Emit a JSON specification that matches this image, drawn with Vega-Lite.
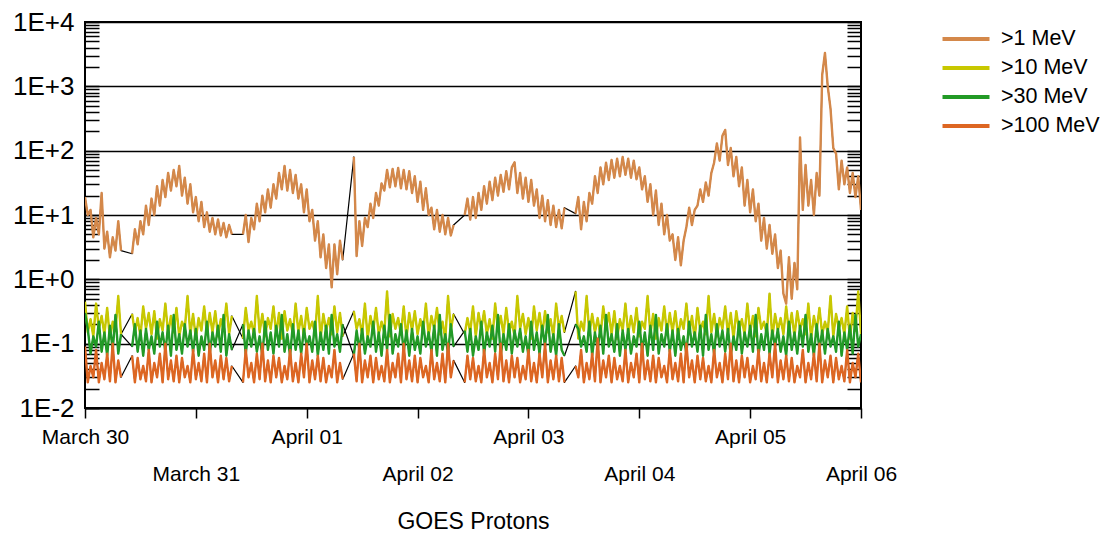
{
  "$schema": "https://vega.github.io/schema/vega-lite/v6.json",
  "autosize": "none",
  "width": 776,
  "height": 386,
  "padding": {"left": 85, "top": 22, "right": 250, "bottom": 127},
  "background": "white",
  "config": {
    "font": "Liberation Sans",
    "view": {"stroke": "black", "strokeWidth": 2}
  },
  "data": {
    "values": [
      {"t":0,"a":19,"b":0.45,"c":0.3,"d":0.09,"g":0},
      {"t":0.025,"a":10,"b":0.15,"c":0.17,"d":0.025,"g":0},
      {"t":0.05,"a":12,"b":0.24,"c":0.07,"d":0.045,"g":0},
      {"t":0.075,"a":4.5,"b":0.13,"c":0.13,"d":0.03,"g":0},
      {"t":0.1,"a":9,"b":0.42,"c":0.09,"d":0.08,"g":0},
      {"t":0.125,"a":5,"b":0.17,"c":0.22,"d":0.025,"g":0},
      {"t":0.15,"a":22,"b":0.27,"c":0.075,"d":0.05,"g":0},
      {"t":0.175,"a":3,"b":0.14,"c":0.15,"d":0.028,"g":0},
      {"t":0.2,"a":5.5,"b":0.36,"c":0.065,"d":0.07,"g":0},
      {"t":0.225,"a":2.2,"b":0.12,"c":0.19,"d":0.026,"g":0},
      {"t":0.25,"a":4.5,"b":0.22,"c":0.08,"d":0.1,"g":0},
      {"t":0.275,"a":2.8,"b":0.16,"c":0.28,"d":0.025,"g":0},
      {"t":0.3,"a":8,"b":0.55,"c":0.07,"d":0.055,"g":0},
      {"t":0.325,"a":2.8,"b":0.14,"c":0.14,"d":0.03,"g":0},
      {"t":0.425,"a":2.5,"b":0.29,"c":0.09,"d":0.065,"g":1},
      {"t":0.45,"a":6,"b":0.15,"c":0.2,"d":0.025,"g":1},
      {"t":0.475,"a":3.5,"b":0.25,"c":0.075,"d":0.06,"g":1},
      {"t":0.5,"a":8,"b":0.13,"c":0.16,"d":0.028,"g":1},
      {"t":0.525,"a":5,"b":0.38,"c":0.065,"d":0.045,"g":1},
      {"t":0.55,"a":14,"b":0.17,"c":0.17,"d":0.026,"g":1},
      {"t":0.575,"a":7,"b":0.3,"c":0.08,"d":0.08,"g":1},
      {"t":0.6,"a":18,"b":0.14,"c":0.13,"d":0.025,"g":1},
      {"t":0.625,"a":10,"b":0.32,"c":0.07,"d":0.05,"g":1},
      {"t":0.65,"a":28,"b":0.12,"c":0.22,"d":0.03,"g":1},
      {"t":0.675,"a":14,"b":0.24,"c":0.09,"d":0.07,"g":1},
      {"t":0.7,"a":35,"b":0.16,"c":0.15,"d":0.025,"g":1},
      {"t":0.725,"a":19,"b":0.42,"c":0.075,"d":0.1,"g":1},
      {"t":0.75,"a":45,"b":0.14,"c":0.19,"d":0.028,"g":1},
      {"t":0.775,"a":24,"b":0.27,"c":0.065,"d":0.055,"g":1},
      {"t":0.8,"a":50,"b":0.15,"c":0.28,"d":0.026,"g":1},
      {"t":0.825,"a":28,"b":0.36,"c":0.08,"d":0.065,"g":1},
      {"t":0.85,"a":58,"b":0.13,"c":0.14,"d":0.025,"g":1},
      {"t":0.875,"a":20,"b":0.22,"c":0.07,"d":0.06,"g":1},
      {"t":0.9,"a":38,"b":0.17,"c":0.2,"d":0.03,"g":1},
      {"t":0.925,"a":15,"b":0.55,"c":0.09,"d":0.045,"g":1},
      {"t":0.95,"a":30,"b":0.14,"c":0.16,"d":0.025,"g":1},
      {"t":0.975,"a":11,"b":0.29,"c":0.075,"d":0.08,"g":1},
      {"t":1,"a":19,"b":0.12,"c":0.17,"d":0.028,"g":1},
      {"t":1.025,"a":8,"b":0.25,"c":0.065,"d":0.05,"g":1},
      {"t":1.05,"a":16,"b":0.16,"c":0.13,"d":0.026,"g":1},
      {"t":1.075,"a":6.5,"b":0.38,"c":0.08,"d":0.07,"g":1},
      {"t":1.1,"a":11,"b":0.14,"c":0.22,"d":0.025,"g":1},
      {"t":1.125,"a":5.5,"b":0.3,"c":0.07,"d":0.1,"g":1},
      {"t":1.15,"a":9,"b":0.15,"c":0.15,"d":0.03,"g":1},
      {"t":1.175,"a":5,"b":0.32,"c":0.09,"d":0.055,"g":1},
      {"t":1.2,"a":8.5,"b":0.13,"c":0.19,"d":0.025,"g":1},
      {"t":1.225,"a":4.8,"b":0.24,"c":0.075,"d":0.065,"g":1},
      {"t":1.25,"a":7.5,"b":0.17,"c":0.28,"d":0.028,"g":1},
      {"t":1.275,"a":4.5,"b":0.42,"c":0.065,"d":0.06,"g":1},
      {"t":1.3,"a":7,"b":0.14,"c":0.14,"d":0.026,"g":1},
      {"t":1.325,"a":5,"b":0.27,"c":0.08,"d":0.045,"g":1},
      {"t":1.425,"a":5,"b":0.12,"c":0.2,"d":0.025,"g":2},
      {"t":1.45,"a":10,"b":0.36,"c":0.07,"d":0.08,"g":2},
      {"t":1.475,"a":3.8,"b":0.16,"c":0.16,"d":0.03,"g":2},
      {"t":1.5,"a":9,"b":0.22,"c":0.09,"d":0.05,"g":2},
      {"t":1.525,"a":6,"b":0.14,"c":0.17,"d":0.025,"g":2},
      {"t":1.55,"a":15,"b":0.55,"c":0.075,"d":0.07,"g":2},
      {"t":1.575,"a":8,"b":0.15,"c":0.13,"d":0.028,"g":2},
      {"t":1.6,"a":20,"b":0.29,"c":0.065,"d":0.1,"g":2},
      {"t":1.625,"a":11,"b":0.13,"c":0.22,"d":0.026,"g":2},
      {"t":1.65,"a":25,"b":0.25,"c":0.08,"d":0.055,"g":2},
      {"t":1.675,"a":13,"b":0.17,"c":0.15,"d":0.025,"g":2},
      {"t":1.7,"a":30,"b":0.38,"c":0.07,"d":0.065,"g":2},
      {"t":1.725,"a":18,"b":0.14,"c":0.19,"d":0.03,"g":2},
      {"t":1.75,"a":45,"b":0.3,"c":0.09,"d":0.06,"g":2},
      {"t":1.775,"a":25,"b":0.12,"c":0.28,"d":0.025,"g":2},
      {"t":1.8,"a":58,"b":0.32,"c":0.075,"d":0.045,"g":2},
      {"t":1.825,"a":24,"b":0.16,"c":0.14,"d":0.028,"g":2},
      {"t":1.85,"a":50,"b":0.24,"c":0.065,"d":0.08,"g":2},
      {"t":1.875,"a":22,"b":0.14,"c":0.2,"d":0.026,"g":2},
      {"t":1.9,"a":42,"b":0.42,"c":0.08,"d":0.05,"g":2},
      {"t":1.925,"a":18,"b":0.15,"c":0.16,"d":0.025,"g":2},
      {"t":1.95,"a":30,"b":0.27,"c":0.07,"d":0.07,"g":2},
      {"t":1.975,"a":11,"b":0.13,"c":0.17,"d":0.03,"g":2},
      {"t":2,"a":25,"b":0.36,"c":0.09,"d":0.1,"g":2},
      {"t":2.025,"a":8,"b":0.17,"c":0.13,"d":0.025,"g":2},
      {"t":2.05,"a":12,"b":0.22,"c":0.075,"d":0.055,"g":2},
      {"t":2.075,"a":4,"b":0.14,"c":0.22,"d":0.028,"g":2},
      {"t":2.1,"a":8,"b":0.55,"c":0.065,"d":0.065,"g":2},
      {"t":2.125,"a":2.2,"b":0.12,"c":0.15,"d":0.026,"g":2},
      {"t":2.15,"a":5,"b":0.29,"c":0.08,"d":0.06,"g":2},
      {"t":2.175,"a":1.5,"b":0.16,"c":0.19,"d":0.025,"g":2},
      {"t":2.2,"a":3.5,"b":0.25,"c":0.07,"d":0.045,"g":2},
      {"t":2.225,"a":0.75,"b":0.14,"c":0.28,"d":0.03,"g":2},
      {"t":2.25,"a":3.5,"b":0.38,"c":0.09,"d":0.08,"g":2},
      {"t":2.275,"a":1.2,"b":0.15,"c":0.14,"d":0.025,"g":2},
      {"t":2.3,"a":4,"b":0.3,"c":0.075,"d":0.05,"g":2},
      {"t":2.325,"a":2,"b":0.13,"c":0.2,"d":0.028,"g":2},
      {"t":2.425,"a":80,"b":0.32,"c":0.065,"d":0.07,"g":3},
      {"t":2.45,"a":2.3,"b":0.17,"c":0.16,"d":0.026,"g":3},
      {"t":2.475,"a":8,"b":0.24,"c":0.08,"d":0.1,"g":3},
      {"t":2.5,"a":3.3,"b":0.14,"c":0.17,"d":0.025,"g":3},
      {"t":2.525,"a":9,"b":0.42,"c":0.07,"d":0.055,"g":3},
      {"t":2.55,"a":6.5,"b":0.12,"c":0.13,"d":0.03,"g":3},
      {"t":2.575,"a":15,"b":0.27,"c":0.09,"d":0.065,"g":3},
      {"t":2.6,"a":9,"b":0.16,"c":0.22,"d":0.025,"g":3},
      {"t":2.625,"a":22,"b":0.36,"c":0.075,"d":0.06,"g":3},
      {"t":2.65,"a":14,"b":0.14,"c":0.15,"d":0.028,"g":3},
      {"t":2.675,"a":31,"b":0.22,"c":0.065,"d":0.045,"g":3},
      {"t":2.7,"a":24,"b":0.15,"c":0.19,"d":0.026,"g":3},
      {"t":2.725,"a":50,"b":0.65,"c":0.08,"d":0.08,"g":3},
      {"t":2.75,"a":27,"b":0.13,"c":0.28,"d":0.025,"g":3},
      {"t":2.775,"a":52,"b":0.29,"c":0.07,"d":0.05,"g":3},
      {"t":2.8,"a":28,"b":0.17,"c":0.14,"d":0.03,"g":3},
      {"t":2.825,"a":54,"b":0.25,"c":0.09,"d":0.07,"g":3},
      {"t":2.85,"a":26,"b":0.14,"c":0.2,"d":0.025,"g":3},
      {"t":2.875,"a":50,"b":0.38,"c":0.075,"d":0.1,"g":3},
      {"t":2.9,"a":25,"b":0.12,"c":0.16,"d":0.028,"g":3},
      {"t":2.925,"a":48,"b":0.3,"c":0.065,"d":0.055,"g":3},
      {"t":2.95,"a":22,"b":0.16,"c":0.17,"d":0.026,"g":3},
      {"t":2.975,"a":40,"b":0.32,"c":0.08,"d":0.065,"g":3},
      {"t":3,"a":16,"b":0.14,"c":0.13,"d":0.025,"g":3},
      {"t":3.025,"a":33,"b":0.24,"c":0.07,"d":0.06,"g":3},
      {"t":3.05,"a":12,"b":0.15,"c":0.22,"d":0.03,"g":3},
      {"t":3.075,"a":26,"b":0.42,"c":0.09,"d":0.045,"g":3},
      {"t":3.1,"a":10,"b":0.13,"c":0.15,"d":0.025,"g":3},
      {"t":3.125,"a":13,"b":0.27,"c":0.075,"d":0.08,"g":3},
      {"t":3.15,"a":6,"b":0.17,"c":0.19,"d":0.028,"g":3},
      {"t":3.175,"a":12,"b":0.36,"c":0.065,"d":0.05,"g":3},
      {"t":3.2,"a":5.5,"b":0.14,"c":0.28,"d":0.026,"g":3},
      {"t":3.225,"a":10,"b":0.22,"c":0.08,"d":0.07,"g":3},
      {"t":3.25,"a":5,"b":0.12,"c":0.14,"d":0.025,"g":3},
      {"t":3.275,"a":9,"b":0.55,"c":0.07,"d":0.1,"g":3},
      {"t":3.3,"a":4.8,"b":0.16,"c":0.2,"d":0.03,"g":3},
      {"t":3.325,"a":7,"b":0.29,"c":0.09,"d":0.055,"g":3},
      {"t":3.425,"a":10,"b":0.14,"c":0.16,"d":0.025,"g":4},
      {"t":3.45,"a":18,"b":0.25,"c":0.075,"d":0.065,"g":4},
      {"t":3.475,"a":8.5,"b":0.15,"c":0.17,"d":0.028,"g":4},
      {"t":3.5,"a":19,"b":0.38,"c":0.065,"d":0.06,"g":4},
      {"t":3.525,"a":9,"b":0.13,"c":0.13,"d":0.026,"g":4},
      {"t":3.55,"a":22,"b":0.3,"c":0.08,"d":0.045,"g":4},
      {"t":3.575,"a":12,"b":0.17,"c":0.22,"d":0.025,"g":4},
      {"t":3.6,"a":28,"b":0.32,"c":0.07,"d":0.08,"g":4},
      {"t":3.625,"a":15,"b":0.14,"c":0.15,"d":0.03,"g":4},
      {"t":3.65,"a":33,"b":0.24,"c":0.09,"d":0.05,"g":4},
      {"t":3.675,"a":17,"b":0.12,"c":0.19,"d":0.025,"g":4},
      {"t":3.7,"a":38,"b":0.42,"c":0.075,"d":0.07,"g":4},
      {"t":3.725,"a":20,"b":0.16,"c":0.28,"d":0.028,"g":4},
      {"t":3.75,"a":42,"b":0.27,"c":0.065,"d":0.1,"g":4},
      {"t":3.775,"a":23,"b":0.14,"c":0.14,"d":0.026,"g":4},
      {"t":3.8,"a":48,"b":0.36,"c":0.08,"d":0.055,"g":4},
      {"t":3.825,"a":25,"b":0.15,"c":0.2,"d":0.025,"g":4},
      {"t":3.85,"a":55,"b":0.22,"c":0.07,"d":0.065,"g":4},
      {"t":3.875,"a":66,"b":0.13,"c":0.16,"d":0.03,"g":4},
      {"t":3.9,"a":22,"b":0.55,"c":0.09,"d":0.06,"g":4},
      {"t":3.925,"a":45,"b":0.17,"c":0.17,"d":0.025,"g":4},
      {"t":3.95,"a":18,"b":0.29,"c":0.075,"d":0.045,"g":4},
      {"t":3.975,"a":38,"b":0.14,"c":0.13,"d":0.028,"g":4},
      {"t":4,"a":16,"b":0.25,"c":0.065,"d":0.08,"g":4},
      {"t":4.025,"a":35,"b":0.12,"c":0.22,"d":0.026,"g":4},
      {"t":4.05,"a":14,"b":0.38,"c":0.08,"d":0.05,"g":4},
      {"t":4.075,"a":25,"b":0.16,"c":0.15,"d":0.025,"g":4},
      {"t":4.1,"a":9,"b":0.3,"c":0.07,"d":0.07,"g":4},
      {"t":4.125,"a":20,"b":0.14,"c":0.19,"d":0.03,"g":4},
      {"t":4.15,"a":8,"b":0.32,"c":0.09,"d":0.1,"g":4},
      {"t":4.175,"a":17,"b":0.15,"c":0.28,"d":0.025,"g":4},
      {"t":4.2,"a":7,"b":0.24,"c":0.075,"d":0.055,"g":4},
      {"t":4.225,"a":14,"b":0.13,"c":0.14,"d":0.028,"g":4},
      {"t":4.25,"a":6.5,"b":0.42,"c":0.065,"d":0.065,"g":4},
      {"t":4.275,"a":12,"b":0.17,"c":0.2,"d":0.026,"g":4},
      {"t":4.3,"a":6.2,"b":0.27,"c":0.08,"d":0.06,"g":4},
      {"t":4.325,"a":13,"b":0.15,"c":0.065,"d":0.025,"g":4},
      {"t":4.425,"a":10.5,"b":0.65,"c":0.2,"d":0.045,"g":5},
      {"t":4.45,"a":19,"b":0.12,"c":0.17,"d":0.03,"g":5},
      {"t":4.475,"a":6,"b":0.22,"c":0.09,"d":0.08,"g":5},
      {"t":4.5,"a":16,"b":0.16,"c":0.13,"d":0.025,"g":5},
      {"t":4.525,"a":8,"b":0.55,"c":0.075,"d":0.05,"g":5},
      {"t":4.55,"a":22,"b":0.14,"c":0.22,"d":0.028,"g":5},
      {"t":4.575,"a":15,"b":0.29,"c":0.065,"d":0.07,"g":5},
      {"t":4.6,"a":40,"b":0.15,"c":0.15,"d":0.026,"g":5},
      {"t":4.625,"a":22,"b":0.25,"c":0.08,"d":0.12,"g":5},
      {"t":4.65,"a":55,"b":0.13,"c":0.19,"d":0.025,"g":5},
      {"t":4.675,"a":30,"b":0.38,"c":0.07,"d":0.055,"g":5},
      {"t":4.7,"a":65,"b":0.17,"c":0.28,"d":0.03,"g":5},
      {"t":4.725,"a":35,"b":0.3,"c":0.09,"d":0.065,"g":5},
      {"t":4.75,"a":72,"b":0.14,"c":0.14,"d":0.025,"g":5},
      {"t":4.775,"a":38,"b":0.32,"c":0.075,"d":0.06,"g":5},
      {"t":4.8,"a":75,"b":0.12,"c":0.2,"d":0.028,"g":5},
      {"t":4.825,"a":40,"b":0.24,"c":0.065,"d":0.045,"g":5},
      {"t":4.85,"a":80,"b":0.16,"c":0.16,"d":0.026,"g":5},
      {"t":4.875,"a":42,"b":0.42,"c":0.08,"d":0.08,"g":5},
      {"t":4.9,"a":75,"b":0.14,"c":0.17,"d":0.025,"g":5},
      {"t":4.925,"a":38,"b":0.27,"c":0.07,"d":0.05,"g":5},
      {"t":4.95,"a":70,"b":0.15,"c":0.13,"d":0.03,"g":5},
      {"t":4.975,"a":36,"b":0.36,"c":0.09,"d":0.07,"g":5},
      {"t":5,"a":55,"b":0.13,"c":0.22,"d":0.025,"g":5},
      {"t":5.025,"a":25,"b":0.22,"c":0.075,"d":0.1,"g":5},
      {"t":5.05,"a":40,"b":0.17,"c":0.15,"d":0.028,"g":5},
      {"t":5.075,"a":16,"b":0.55,"c":0.065,"d":0.055,"g":5},
      {"t":5.1,"a":30,"b":0.14,"c":0.19,"d":0.026,"g":5},
      {"t":5.125,"a":10,"b":0.29,"c":0.08,"d":0.065,"g":5},
      {"t":5.15,"a":24,"b":0.12,"c":0.28,"d":0.025,"g":5},
      {"t":5.175,"a":7,"b":0.25,"c":0.07,"d":0.06,"g":5},
      {"t":5.2,"a":15,"b":0.16,"c":0.14,"d":0.03,"g":5},
      {"t":5.225,"a":5,"b":0.38,"c":0.09,"d":0.045,"g":5},
      {"t":5.25,"a":10,"b":0.14,"c":0.2,"d":0.025,"g":5},
      {"t":5.275,"a":4,"b":0.3,"c":0.075,"d":0.08,"g":5},
      {"t":5.3,"a":5,"b":0.15,"c":0.16,"d":0.028,"g":5},
      {"t":5.325,"a":2,"b":0.32,"c":0.065,"d":0.05,"g":5},
      {"t":5.35,"a":4.5,"b":0.13,"c":0.17,"d":0.026,"g":5},
      {"t":5.375,"a":1.65,"b":0.24,"c":0.08,"d":0.07,"g":5},
      {"t":5.4,"a":4,"b":0.17,"c":0.13,"d":0.025,"g":5},
      {"t":5.425,"a":6.5,"b":0.42,"c":0.07,"d":0.1,"g":5},
      {"t":5.45,"a":13,"b":0.14,"c":0.22,"d":0.03,"g":5},
      {"t":5.475,"a":7,"b":0.27,"c":0.09,"d":0.055,"g":5},
      {"t":5.5,"a":12,"b":0.12,"c":0.15,"d":0.025,"g":5},
      {"t":5.525,"a":14,"b":0.36,"c":0.075,"d":0.065,"g":5},
      {"t":5.55,"a":25,"b":0.16,"c":0.19,"d":0.028,"g":5},
      {"t":5.575,"a":16,"b":0.22,"c":0.065,"d":0.06,"g":5},
      {"t":5.6,"a":32,"b":0.14,"c":0.28,"d":0.026,"g":5},
      {"t":5.625,"a":20,"b":0.55,"c":0.08,"d":0.045,"g":5},
      {"t":5.65,"a":45,"b":0.15,"c":0.14,"d":0.025,"g":5},
      {"t":5.675,"a":65,"b":0.29,"c":0.07,"d":0.08,"g":5},
      {"t":5.7,"a":130,"b":0.13,"c":0.2,"d":0.03,"g":5},
      {"t":5.725,"a":70,"b":0.25,"c":0.09,"d":0.05,"g":5},
      {"t":5.75,"a":170,"b":0.17,"c":0.16,"d":0.025,"g":5},
      {"t":5.775,"a":210,"b":0.38,"c":0.075,"d":0.07,"g":5},
      {"t":5.8,"a":60,"b":0.14,"c":0.17,"d":0.028,"g":5},
      {"t":5.825,"a":110,"b":0.3,"c":0.065,"d":0.1,"g":5},
      {"t":5.85,"a":40,"b":0.12,"c":0.13,"d":0.026,"g":5},
      {"t":5.875,"a":80,"b":0.32,"c":0.08,"d":0.055,"g":5},
      {"t":5.9,"a":28,"b":0.16,"c":0.22,"d":0.025,"g":5},
      {"t":5.925,"a":55,"b":0.24,"c":0.07,"d":0.065,"g":5},
      {"t":5.95,"a":14,"b":0.14,"c":0.15,"d":0.03,"g":5},
      {"t":5.975,"a":35,"b":0.42,"c":0.09,"d":0.06,"g":5},
      {"t":6,"a":11,"b":0.15,"c":0.19,"d":0.025,"g":5},
      {"t":6.025,"a":25,"b":0.27,"c":0.075,"d":0.045,"g":5},
      {"t":6.05,"a":8,"b":0.13,"c":0.28,"d":0.028,"g":5},
      {"t":6.075,"a":15,"b":0.36,"c":0.065,"d":0.08,"g":5},
      {"t":6.1,"a":4,"b":0.17,"c":0.14,"d":0.026,"g":5},
      {"t":6.125,"a":9,"b":0.22,"c":0.08,"d":0.05,"g":5},
      {"t":6.15,"a":3,"b":0.14,"c":0.2,"d":0.025,"g":5},
      {"t":6.175,"a":7,"b":0.6,"c":0.07,"d":0.07,"g":5},
      {"t":6.2,"a":2.5,"b":0.12,"c":0.16,"d":0.03,"g":5},
      {"t":6.225,"a":5,"b":0.29,"c":0.09,"d":0.1,"g":5},
      {"t":6.25,"a":1.5,"b":0.16,"c":0.17,"d":0.025,"g":5},
      {"t":6.275,"a":2.8,"b":0.25,"c":0.075,"d":0.055,"g":5},
      {"t":6.3,"a":0.6,"b":0.14,"c":0.13,"d":0.028,"g":5},
      {"t":6.325,"a":0.42,"b":0.38,"c":0.065,"d":0.065,"g":5},
      {"t":6.35,"a":2.2,"b":0.15,"c":0.22,"d":0.026,"g":5},
      {"t":6.375,"a":0.5,"b":0.3,"c":0.08,"d":0.06,"g":5},
      {"t":6.4,"a":1.8,"b":0.13,"c":0.15,"d":0.025,"g":5},
      {"t":6.425,"a":0.7,"b":0.32,"c":0.07,"d":0.045,"g":5},
      {"t":6.45,"a":160,"b":0.17,"c":0.19,"d":0.03,"g":5},
      {"t":6.475,"a":12,"b":0.24,"c":0.09,"d":0.08,"g":5},
      {"t":6.5,"a":60,"b":0.14,"c":0.28,"d":0.025,"g":5},
      {"t":6.525,"a":14,"b":0.42,"c":0.075,"d":0.05,"g":5},
      {"t":6.55,"a":35,"b":0.12,"c":0.14,"d":0.028,"g":5},
      {"t":6.575,"a":10,"b":0.27,"c":0.065,"d":0.07,"g":5},
      {"t":6.6,"a":45,"b":0.16,"c":0.2,"d":0.026,"g":5},
      {"t":6.625,"a":20,"b":0.36,"c":0.08,"d":0.1,"g":5},
      {"t":6.65,"a":1500,"b":0.14,"c":0.16,"d":0.025,"g":5},
      {"t":6.675,"a":3300,"b":0.22,"c":0.07,"d":0.055,"g":5},
      {"t":6.7,"a":1000,"b":0.15,"c":0.17,"d":0.03,"g":5},
      {"t":6.725,"a":450,"b":0.55,"c":0.09,"d":0.065,"g":5},
      {"t":6.75,"a":110,"b":0.13,"c":0.13,"d":0.025,"g":5},
      {"t":6.775,"a":90,"b":0.29,"c":0.075,"d":0.06,"g":5},
      {"t":6.8,"a":25,"b":0.17,"c":0.22,"d":0.028,"g":5},
      {"t":6.825,"a":70,"b":0.25,"c":0.065,"d":0.045,"g":5},
      {"t":6.85,"a":30,"b":0.14,"c":0.15,"d":0.026,"g":5},
      {"t":6.875,"a":55,"b":0.38,"c":0.08,"d":0.08,"g":5},
      {"t":6.9,"a":22,"b":0.12,"c":0.19,"d":0.025,"g":5},
      {"t":6.925,"a":45,"b":0.3,"c":0.07,"d":0.05,"g":5},
      {"t":6.95,"a":19,"b":0.16,"c":0.28,"d":0.03,"g":5},
      {"t":6.975,"a":40,"b":0.65,"c":0.09,"d":0.07,"g":5},
      {"t":7,"a":12,"b":0.14,"c":0.14,"d":0.025,"g":5}
    ]
  },
  "transform": [{"fold": ["a", "b", "c", "d"], "as": ["s", "v"]}],
  "encoding": {
    "x": {
      "field": "t",
      "type": "quantitative",
      "scale": {"domain": [0, 7], "nice": false, "zero": false},
      "axis": {
        "values": [0, 1, 2, 3, 4, 5, 6, 7],
        "labelExpr": "['March 30', ['', 'March 31'], 'April 01', ['', 'April 02'], 'April 03', ['', 'April 04'], 'April 05', ['', 'April 06']][datum.value]",
        "grid": false,
        "tickSize": 10,
        "tickColor": "black",
        "tickWidth": 1.5,
        "domainColor": "black",
        "domainWidth": 2,
        "labelFontSize": 21,
        "labelColor": "black",
        "labelPadding": 8,
        "labelLineHeight": 37,
        "labelOverlap": false,
        "labelFlush": false,
        "labelBound": false,
        "title": "GOES Protons",
        "titleFontSize": 23,
        "titleFontWeight": "normal",
        "titleColor": "black",
        "titlePadding": 26
      }
    },
    "y": {
      "field": "v",
      "type": "quantitative",
      "scale": {"type": "log", "domain": [0.01, 10000], "nice": false}
    }
  },
  "layer": [
    {
      "mark": {"type": "line", "color": "black", "strokeWidth": 1.2, "strokeJoin": "round", "clip": true},
      "encoding": {
        "detail": {"field": "s"},
        "y": {
          "field": "v",
          "type": "quantitative",
          "axis": {
            "orient": "left",
            "values": [0.01,0.02,0.03,0.04,0.05,0.06,0.07,0.08,0.09,0.1,0.2,0.3,0.4,0.5,0.6,0.7,0.8,0.9,1,2,3,4,5,6,7,8,9,10,20,30,40,50,60,70,80,90,100,200,300,400,500,600,700,800,900,1000,2000,3000,4000,5000,6000,7000,8000,9000,10000],
            "labelExpr": "abs(log(datum.value) / LN10 - round(log(datum.value) / LN10)) < 0.001 ? '1E' + (datum.value >= 1 ? '+' : '') + round(log(datum.value) / LN10) : ''",
            "domain": false,
            "tickSize": -14,
            "tickColor": "black",
            "tickWidth": 1.5,
            "labelPadding": 25,
            "labelFontSize": 26,
            "labelColor": "black",
            "labelOverlap": false,
            "labelBound": false,
            "grid": true,
            "gridColor": "black",
            "gridWidth": 1.5,
            "gridOpacity": {"condition": {"test": "abs(log(datum.value) / LN10 - round(log(datum.value) / LN10)) < 0.001", "value": 1}, "value": 0},
            "title": null
          }
        }
      }
    },
    {
      "mark": {"type": "line", "strokeWidth": 2.4, "strokeJoin": "round", "clip": true},
      "encoding": {
        "color": {
          "field": "s",
          "type": "nominal",
          "scale": {"domain": ["a", "b", "c", "d"], "range": ["#D4884A", "#C8C800", "#229A26", "#DD6622"]},
          "legend": {
            "orient": "none",
            "legendX": 867,
            "legendY": 3,
            "title": null,
            "padding": 0,
            "labelExpr": "datum.label == 'a' ? '>1 MeV' : datum.label == 'b' ? '>10 MeV' : datum.label == 'c' ? '>30 MeV' : '>100 MeV'",
            "symbolType": "M-2,0H2",
            "symbolSize": 552,
            "symbolStrokeWidth": 4,
            "labelFontSize": 21.5,
            "labelColor": "black",
            "labelOffset": 21,
            "rowPadding": 4
          }
        },
        "detail": {"field": "g"},
        "y": {
          "field": "v",
          "type": "quantitative",
          "axis": {
            "orient": "right",
            "values": [0.01,0.02,0.03,0.04,0.05,0.06,0.07,0.08,0.09,0.1,0.2,0.3,0.4,0.5,0.6,0.7,0.8,0.9,1,2,3,4,5,6,7,8,9,10,20,30,40,50,60,70,80,90,100,200,300,400,500,600,700,800,900,1000,2000,3000,4000,5000,6000,7000,8000,9000,10000],
            "labels": false,
            "domain": false,
            "grid": false,
            "tickSize": -14,
            "tickColor": "black",
            "tickWidth": 1.5,
            "title": null
          }
        }
      }
    }
  ],
  "resolve": {"axis": {"y": "independent"}}
}
